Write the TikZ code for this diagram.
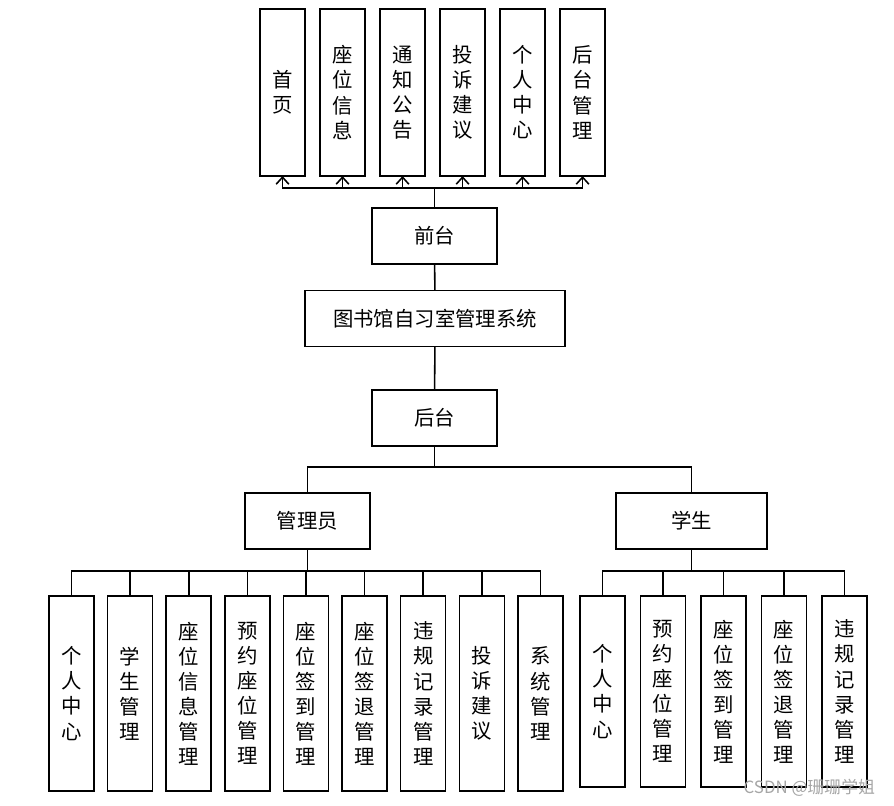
\documentclass[tikz,border=0pt]{standalone}
\usepackage{fontspec}
\setmainfont{Noto Sans CJK SC}
\usepackage{tikz}
\usetikzlibrary{arrows.meta,positioning}

\begin{document}
\begin{tikzpicture}[
  x=0.025cm, y=-0.025cm,
  font=\fontsize{14.5}{17.8}\selectfont,
  box/.style={
    draw=black,
    line width=1.1pt,
    align=center,
    inner sep=2pt,
    outer sep=0pt,
    minimum height=1.4cm
  },
  vbox/.style={box, minimum width=1.125cm},
  link/.style={line width=1.1pt},
  arr/.style={link, -{Straight Barb[length=5pt,width=9pt]}}
]
  \useasboundingbox (0,0) rectangle (894,805);

  % Middle column
  \node[box, minimum width=3.125cm] (qt) at (434.5,236) {前台};
  \node[box, minimum width=6.5cm] (sys) at (435,318.5) {图书馆自习室管理系统};
  \node[box, minimum width=3.125cm] (ht) at (434.5,418) {后台};
  \draw[link] (qt) -- (sys);
  \draw[link] (sys) -- (ht);

  % Top row
  \node[vbox, minimum height=4.175cm] (sy) at (282.5,92.5) {首\\页};
  \node[vbox, minimum height=4.175cm, right=0.375cm of sy] (zwxx) {座\\位\\信\\息};
  \node[vbox, minimum height=4.175cm, right=0.375cm of zwxx] (tzgg) {通\\知\\公\\告};
  \node[vbox, minimum height=4.175cm, right=0.375cm of tzgg] (tsjy) {投\\诉\\建\\议};
  \node[vbox, minimum height=4.175cm, right=0.375cm of tsjy] (grzx) {个\\人\\中\\心};
  \node[vbox, minimum height=4.175cm, right=0.375cm of grzx] (htgl) {后\\台\\管\\理};

  \foreach \t in {sy,zwxx,tzgg,tsjy,grzx,htgl}
    \draw[arr] (qt.north) -- ++(0,-20) -| (\t.south);

  % Roles
  \node[box, minimum width=3.125cm] (gly) at (307.5,521) {管理员};
  \node[box, minimum width=3.775cm] (xs) at (691.5,521) {学生};
  \draw[link] (ht.south) -- ++(0,21) -| (gly.north);
  \draw[link] (ht.south) -- ++(0,21) -| (xs.north);

  % Admin modules
  \node[vbox, minimum height=4.875cm] (a1) at (71.5,693.5) {个\\人\\中\\心};
  \node[vbox, minimum height=4.875cm, right=0.34cm of a1] (a2) {学\\生\\管\\理};
  \node[vbox, minimum height=4.875cm, right=0.34cm of a2] (a3) {座\\位\\信\\息\\管\\理};
  \node[vbox, minimum height=4.875cm, right=0.34cm of a3] (a4) {预\\约\\座\\位\\管\\理};
  \node[vbox, minimum height=4.875cm, right=0.34cm of a4] (a5) {座\\位\\签\\到\\管\\理};
  \node[vbox, minimum height=4.875cm, right=0.34cm of a5] (a6) {座\\位\\签\\退\\管\\理};
  \node[vbox, minimum height=4.875cm, right=0.34cm of a6] (a7) {违\\规\\记\\录\\管\\理};
  \node[vbox, minimum height=4.875cm, right=0.34cm of a7] (a8) {投\\诉\\建\\议};
  \node[vbox, minimum height=4.875cm, right=0.34cm of a8] (a9) {系\\统\\管\\理};

  \foreach \m in {a1,a2,a3,a4,a5,a6,a7,a8,a9}
    \draw[link] (gly.south) -- ++(0,22) -| (\m.north);

  % Student modules
  \node[vbox, minimum height=4.775cm] (s1) at (602.5,691.5) {个\\人\\中\\心};
  \node[vbox, minimum height=4.775cm, right=0.3875cm of s1] (s2) {预\\约\\座\\位\\管\\理};
  \node[vbox, minimum height=4.775cm, right=0.3875cm of s2] (s3) {座\\位\\签\\到\\管\\理};
  \node[vbox, minimum height=4.775cm, right=0.3875cm of s3] (s4) {座\\位\\签\\退\\管\\理};
  \node[vbox, minimum height=4.775cm, right=0.3875cm of s4] (s5) {违\\规\\记\\录\\管\\理};

  \foreach \m in {s1,s2,s3,s4,s5}
    \draw[link] (xs.south) -- ++(0,22) -| (\m.north);

  \node[anchor=east, font=\fontsize{12}{14}\selectfont, text=black!35] (wm) at (880,788) {CSDN @珊珊学姐};
\end{tikzpicture}
\end{document}
